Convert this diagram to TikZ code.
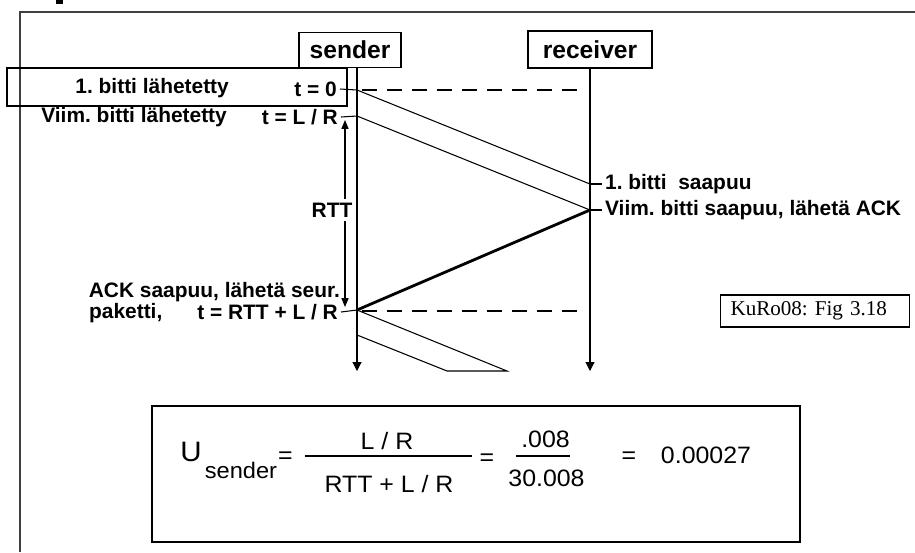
\documentclass[tikz,border=0pt]{standalone}
\usepackage{fontspec}
\setmainfont{Liberation Sans}
\newfontfamily\citefont{Liberation Serif}
\newfontfamily\formfont[FakeStretch=1.05]{Liberation Sans}
\usetikzlibrary{arrows.meta}
\frenchspacing

\begin{document}
\begin{tikzpicture}[x=0.02cm, y=-0.02cm, line width=0.6pt,
    lbl/.style={font=\fontsize{11.9}{14}\selectfont\bfseries, inner sep=1.5pt},
    head/.style={draw, font=\fontsize{14}{16}\selectfont\bfseries, inner sep=0pt},
    frm/.style={font=\fontsize{13.5}{16}\selectfont\formfont, inner sep=0pt},
    wait/.style={line width=1.6pt, dash pattern=on 8.5pt off 5.7pt},
    life/.style={-{Triangle[width=5pt,length=5pt]}},
    bar/.style={line width=1.6pt}]
			% Frame
			\useasboundingbox (0,0) rectangle (915,552);
			\fill (56,0) rectangle (63,4);
			\draw[black!75] (20,552) |- (915,12);
			
			% Sender and receiver with their time lines
			\node[head, minimum width=2.04cm, minimum height=0.7cm] (sender) at (350,50) {sender};
			\node[head, minimum width=2.48cm, minimum height=0.74cm] (receiver) at (590,49.5) {receiver};
			\coordinate (sTop) at (357,68);
			\coordinate (sEnd) at (357,371);
			\coordinate (rTop) at (590,68);
			\coordinate (rEnd) at (590,371);
			\draw[life] (sTop) -- (sEnd);
			\draw[life] (rTop) -- (rEnd);
			
			% Events on the time lines
			\coordinate (s0) at (357,90);
			\coordinate (s1) at (357,116);
			\coordinate (s2) at (357,310);
			\coordinate (s3) at (357,335);
			\coordinate (r0) at (590,184);
			\coordinate (r1) at (590,210);
			
			% Sender side labels
			\draw (7,68) rectangle (347,106);
			\node[lbl, anchor=east] (first) at (232,88) {1. bitti lähetetty};
			\node[lbl, anchor=east] (t0) at (340,89) {t = 0};
			\node[lbl, anchor=east] (last) at (230,117) {Viim. bitti lähetetty};
			\node[lbl, anchor=east] (tLR) at (341,117) {t = L / R};
			\node[lbl, anchor=east] (ackA) at (343,292) {ACK saapuu, lähetä seur.};
			\node[lbl, anchor=west] (ackB) at (86,313) {paketti,};
			\node[lbl, anchor=east] (tRTT) at (341,312) {t = RTT + L / R};
			\draw (t0.east) -- (s0);
			\draw (tLR.east) -- (s1);
			\draw (tRTT.east) -- (s2);
			
			% Receiver side labels
			\node[lbl, anchor=west] (arrA) at (602,184) {1. bitti\ \ saapuu};
			\node[lbl, anchor=west] (arrB) at (602,210) {Viim. bitti saapuu, lähetä ACK};
			\draw (r0) -- (arrA.west);
			\draw (r1) -- (arrB.west);
			
			% Packet, ACK and next packet
			\draw (s0) -- (r0);
			\draw (s1) -- (r1);
			\draw[line width=1.6pt] (r1) -- (s2);
			\coordinate (p0) at (507,371);
			\coordinate (p1) at (447,371);
			\draw (s2) -- (p0) -- (p1) -- (s3);
			
			% Waiting lines
			\coordinate (w0) at (362,90);
			\coordinate (w1) at (580,90);
			\coordinate (w2) at (362,311);
			\coordinate (w3) at (580,311);
			\draw[wait] (w0) -- (w1);
			\draw[wait] (w2) -- (w3);
			
			% RTT
			\coordinate (rttTop) at (345,120);
			\coordinate (rttBot) at (345,307);
			\draw[{Triangle[width=4pt,length=5pt]}-{Triangle[width=4pt,length=5pt]}] (rttTop) -- (rttBot);
			\node[lbl, fill=white, inner sep=2pt] (rtt) at (332,210) {RTT};
			
			% Source
			\node[draw, anchor=west, font=\fontsize{12}{14}\selectfont\citefont, minimum height=0.64cm, text width=3.38cm, inner xsep=0.2cm] (cite) at (720,311) {KuRo08: Fig 3.18};
			
			% Utilisation
			\draw (152,406) rectangle (800,542);
			\node[frm, font=\fontsize{16}{18}\selectfont\formfont] (U) at (191,452) {U};
			\node[frm, font=\fontsize{12.8}{15}\selectfont\formfont] (sub) at (241,470) {sender};
			\node[frm] (eqA) at (285.5,458) {=};
			\node[frm] (numA) at (387,441) {L / R};
			\node[frm] (denA) at (389,484) {RTT + L / R};
			\coordinate (barA) at (305,456);
			\coordinate (barB) at (472,456);
			\draw[bar] (barA) -- (barB);
			\node[frm] (eqB) at (487,460) {=};
			\node[frm] (numB) at (545.5,439) {.008};
			\node[frm] (denB) at (546.5,478) {30.008};
			\coordinate (barC) at (516,456);
			\coordinate (barD) at (570,456);
			\draw[bar] (barC) -- (barD);
			\node[frm] (eqC) at (629,458) {=};
			\node[frm] (res) at (706,455) {0.00027};
		\end{tikzpicture}
\end{document}
